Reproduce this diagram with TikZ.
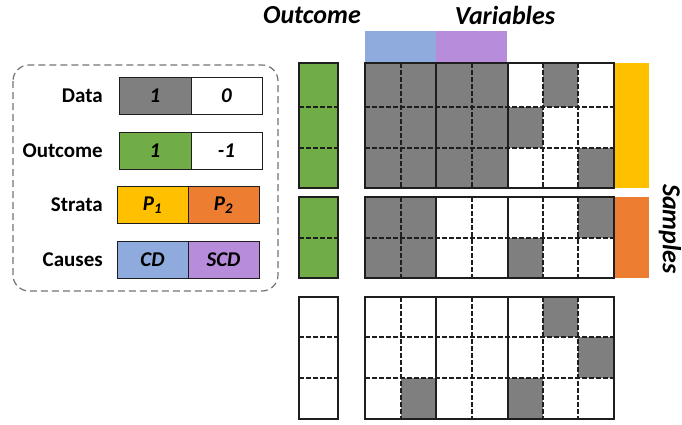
\documentclass[tikz,border=0pt]{standalone}
\usepackage{fontspec}
\setmainfont{Carlito}
\definecolor{cellgray}{RGB}{127,127,127}
\definecolor{outgreen}{RGB}{112,173,71}
\definecolor{strataA}{RGB}{255,192,0}
\definecolor{strataB}{RGB}{237,125,49}
\definecolor{causeA}{RGB}{143,170,220}
\definecolor{causeB}{RGB}{183,140,218}
\definecolor{frame}{RGB}{30,30,30}
\tikzset{
  legendcell/.style={draw=frame, line width=1pt, minimum height=37pt, inner sep=0pt,
    font=\fontsize{21}{25}\selectfont\bfseries\itshape},
  legendlabel/.style={anchor=east, inner sep=0pt, font=\fontsize{21}{25}\selectfont\bfseries},
  heading/.style={inner sep=0pt, font=\fontsize{26}{30}\selectfont\bfseries\itshape},
  dashline/.style={draw=frame, line width=1.2pt, dash pattern=on 4.5pt off 2.5pt},
  groupline/.style={draw=frame, line width=1.8pt},
  blockframe/.style={draw=frame, line width=1.6pt},
}
\begin{document}
\begin{tikzpicture}[x=1pt,y=-1pt]
\useasboundingbox (0,0) rectangle (682,424);

% ---------- legend ----------
\draw[gray!90!black, line width=1.2pt, dash pattern=on 7pt off 4pt, rounded corners=16pt]
  (13,65) rectangle (278,291);

\node[legendcell, fill=cellgray, minimum width=72pt] (d1) at (155,96) {1};
\node[legendcell, fill=white, minimum width=71pt] (d0) at (226.5,96) {0};
\node[legendlabel] (ldata) at (103,96) {Data};

\node[legendcell, fill=outgreen, minimum width=72pt] (o1) at (155,150.5) {1};
\node[legendcell, fill=white, minimum width=71pt] (o0) at (226.5,150.5) {-1};
\node[legendlabel] (lout) at (103,150.5) {Outcome};

\node[legendcell, fill=strataA, minimum width=71pt] (s1) at (152.5,205) {P\textsubscript{1}};
\node[legendcell, fill=strataB, minimum width=71pt] (s2) at (223.5,205) {P\textsubscript{2}};
\node[legendlabel] (lstr) at (103,205) {Strata};

\node[legendcell, fill=causeA, minimum width=71pt] (c1) at (152.5,259.5) {CD};
\node[legendcell, fill=causeB, minimum width=71pt] (c2) at (223.5,259.5) {SCD};
\node[legendlabel] (lcau) at (103,259.5) {Causes};

% ---------- headings ----------
\node[heading] (hout) at (312,15) {Outcome};
\node[heading] (hvar) at (505,15) {Variables};
\node[heading, rotate=-90] (hsam) at (670,229) {Samples};

% ---------- coloured bars ----------
\fill[causeA] (365,31) rectangle (436,63);
\fill[causeB] (436,31) rectangle (507,63);
\fill[strataA] (615,63) rectangle (649,188);
\fill[strataB] (615,197) rectangle (649,278);

% ---------- matrix cells ----------
\def\colxs{{365,401,436,472,508,543,578,614}}
\def\rowtop{{63,107,148,197,238,297,337,378}}
\def\rowbot{{107,148,188,238,278,337,378,419}}
\foreach \c/\r in {0/0,1/0,2/0,3/0,5/0,
                   0/1,1/1,2/1,3/1,4/1,
                   0/2,1/2,2/2,3/2,6/2,
                   0/3,1/3,6/3,
                   0/4,1/4,4/4,
                   5/5,
                   6/6,
                   1/7,4/7}{
  \pgfmathsetmacro\xa{\colxs[\c]}
  \pgfmathsetmacro\xb{\colxs[\c+1]}
  \pgfmathsetmacro\ya{\rowtop[\r]}
  \pgfmathsetmacro\yb{\rowbot[\r]}
  \fill[cellgray] (\xa,\ya) rectangle (\xb,\yb);
}

% outcome column fills
\fill[outgreen] (299,63) rectangle (338,188);
\fill[outgreen] (299,197) rectangle (338,278);

% ---------- grid lines per block ----------
\foreach \top/\bot/\inner in {63/188/{107,148}, 197/278/{238}, 297/419/{337,378}}{
  \foreach \y in \inner {
    \draw[dashline] (365,\y) -- (614,\y);
    \draw[dashline] (299,\y) -- (338,\y);
  }
  \foreach \x in {401,472,543,578}
    \draw[dashline] (\x,\top) -- (\x,\bot);
  \foreach \x in {436,508}
    \draw[groupline] (\x,\top) -- (\x,\bot);
  \draw[blockframe] (365,\top) rectangle (614,\bot);
  \draw[blockframe] (299,\top) rectangle (338,\bot);
}
\end{tikzpicture}
\end{document}
